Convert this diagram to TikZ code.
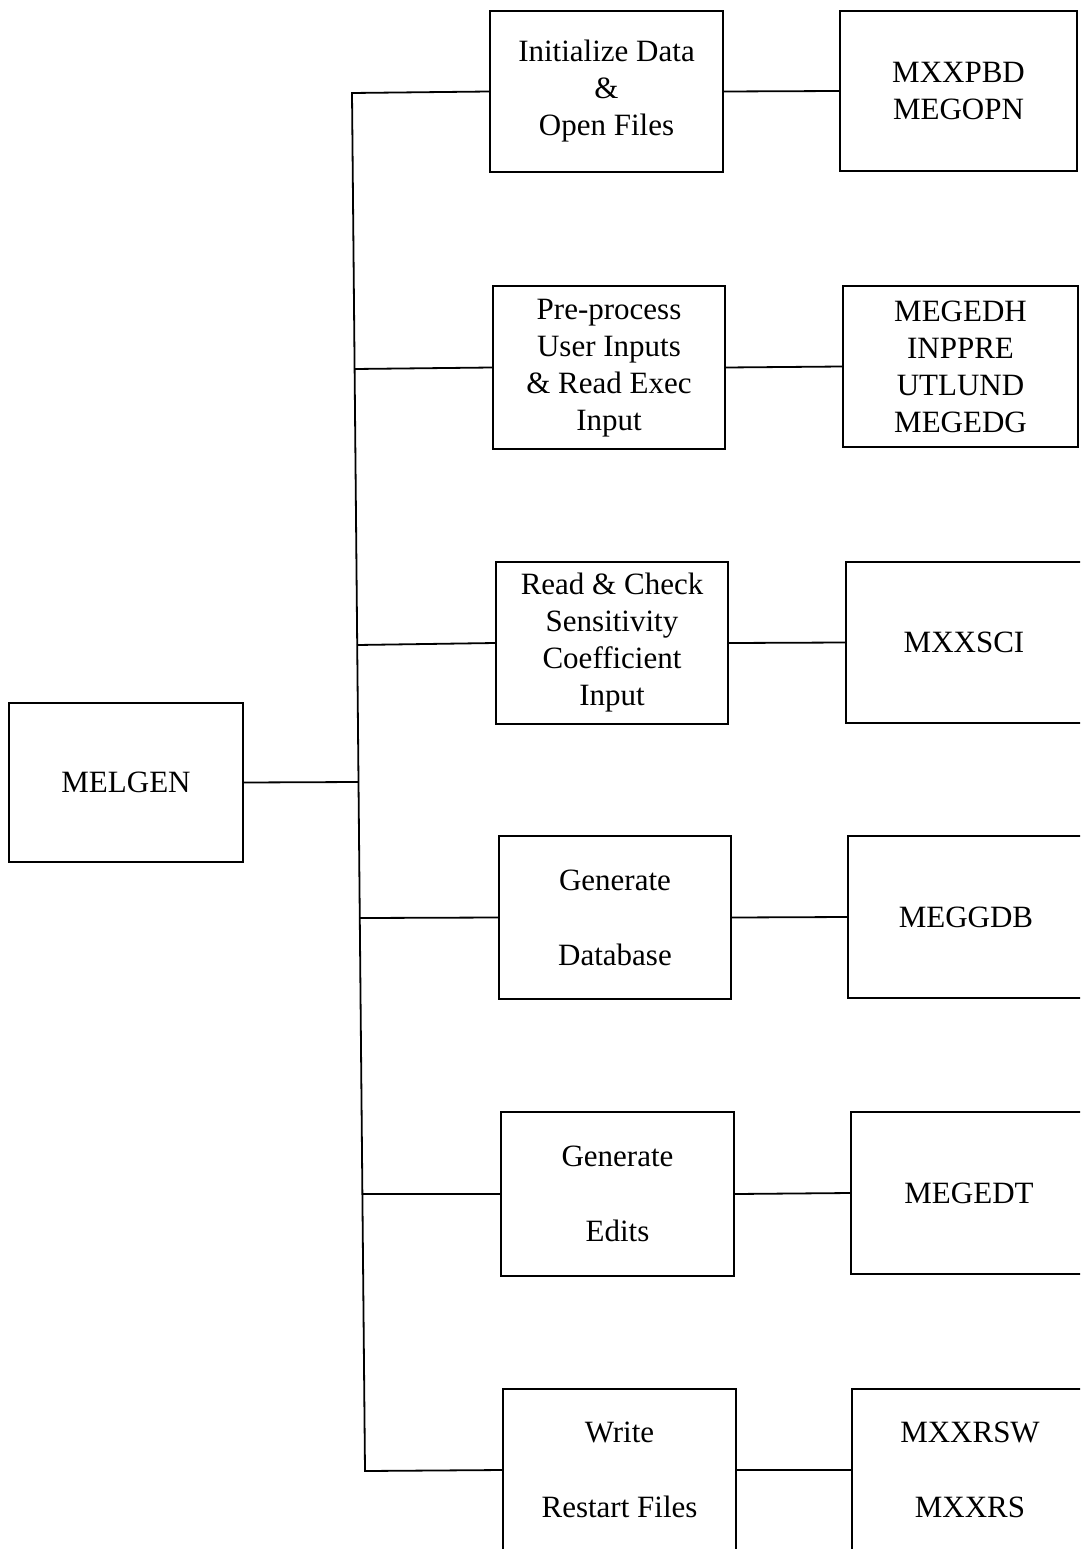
\documentclass[tikz,border=0pt]{standalone}
\usepackage{fontspec}
\setmainfont{Liberation Serif}
\newcommand\mystack[1]{\begin{tabular}{@{}c@{}}#1\end{tabular}}
\begin{document}
\begin{tikzpicture}[x=1pt,y=-1pt,
  box/.style={draw, line width=1.8pt, rectangle, inner sep=0pt, align=center,
    font=\fontsize{31}{37}\selectfont},
  conn/.style={line width=1.8pt}]
\useasboundingbox (0,0) rectangle (1080,1549);
\fill[white] (0,0) rectangle (1080,1549);
\begin{scope}
\clip (0,0) rectangle (1080,1549);
% left node
\node[box, minimum width=234pt, minimum height=159pt] (m) at (126,782.5) {MELGEN};
% middle column
\node[box, minimum width=233pt, minimum height=161pt] (a1) at (606.5,91.5) {\mystack{Initialize Data\\\&\\Open Files}};
\node[box, minimum width=232pt, minimum height=163pt] (a2) at (609,367.5) {\mystack{Pre-process\\User Inputs\\\& Read Exec\\Input}};
\node[box, minimum width=232pt, minimum height=162pt] (a3) at (612,643) {\mystack{Read \& Check\\Sensitivity\\Coefficient\\Input}};
\node[box, minimum width=232pt, minimum height=163pt] (a4) at (615,917.5) {Generate\\[38pt]Database};
\node[box, minimum width=233pt, minimum height=164pt] (a5) at (617.5,1194) {Generate\\[38pt]Edits};
\node[box, minimum width=233pt, minimum height=162pt] (a6) at (619.5,1470) {Write\\[38pt]Restart Files};
% right column
\node[box, minimum width=237pt, minimum height=160pt] (r1) at (958.5,91) {MXXPBD\\MEGOPN};
\node[box, minimum width=235pt, minimum height=161pt] (r2) at (960.5,366.5) {MEGEDH\\INPPRE\\UTLUND\\MEGEDG};
\node[box, minimum width=236pt, minimum height=161pt] (r3) at (964,642.5) {MXXSCI};
\node[box, minimum width=236pt, minimum height=162pt] (r4) at (966,917) {MEGGDB};
\node[box, minimum width=236pt, minimum height=162pt] (r5) at (969,1193) {MEGEDT};
\node[box, minimum width=236pt, minimum height=162pt] (r6) at (970,1470) {MXXRSW\\[38pt]MXXRS};
% trunk coordinates
\coordinate (t1) at (352,93);
\coordinate (t2) at (354.5,369);
\coordinate (t3) at (357,645);
\coordinate (tm) at (358,782);
\coordinate (t4) at (360,918);
\coordinate (t5) at (362.5,1194);
\coordinate (t6) at (365,1471);
% connectors
\draw[conn, line cap=rect] (t1) -- (t6);
\draw[conn] (m.east) -- (tm);
\draw[conn] (t1) -- (a1.west);
\draw[conn] (t2) -- (a2.west);
\draw[conn] (t3) -- (a3.west);
\draw[conn] (t4) -- (a4.west);
\draw[conn] (t5) -- (a5.west);
\draw[conn] (t6) -- (a6.west);
\draw[conn] (a1.east) -- (r1.west);
\draw[conn] (a2.east) -- (r2.west);
\draw[conn] (a3.east) -- (r3.west);
\draw[conn] (a4.east) -- (r4.west);
\draw[conn] (a5.east) -- (r5.west);
\draw[conn] (a6.east) -- (r6.west);
\end{scope}
\end{tikzpicture}
\end{document}
